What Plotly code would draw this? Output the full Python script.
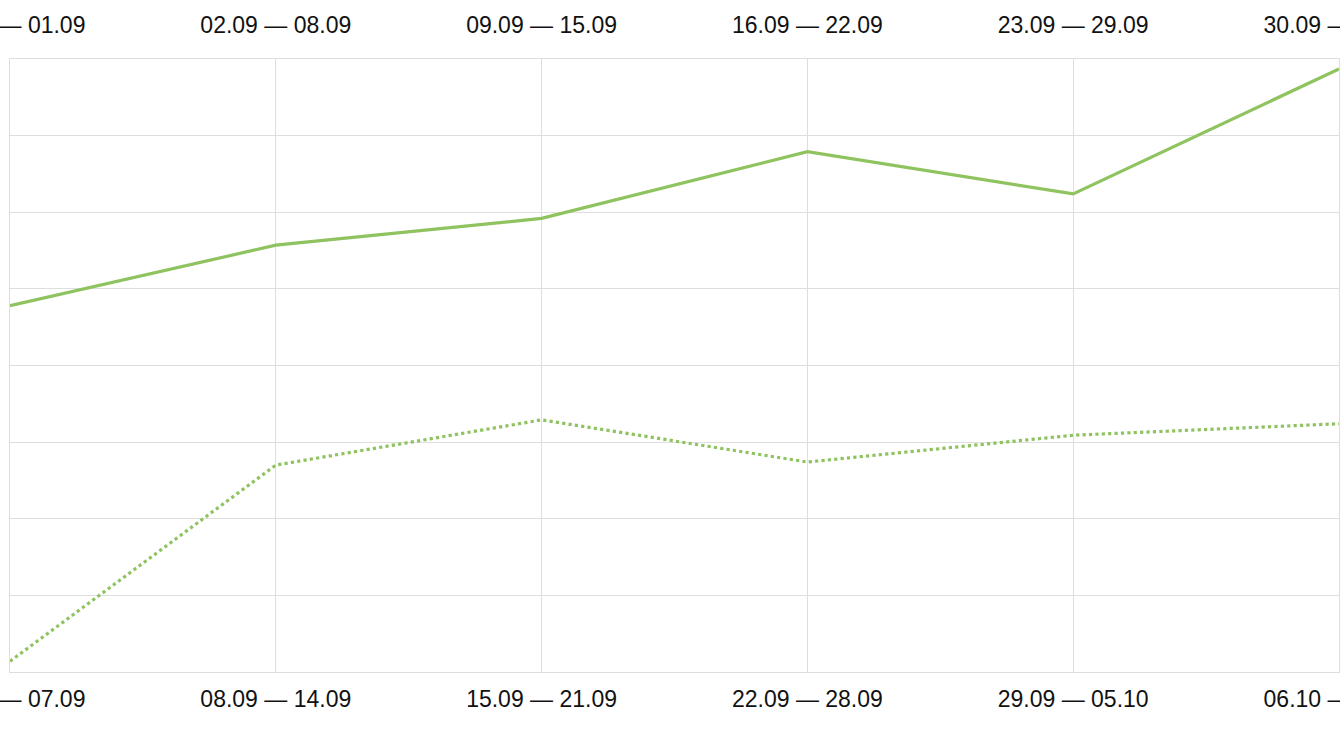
import plotly.graph_objects as go

bottom_labels = ["01.09 — 07.09", "08.09 — 14.09", "15.09 — 21.09",
                 "22.09 — 28.09", "29.09 — 05.10", "06.10 — 12.10"]
top_labels = ["26.08 — 01.09", "02.09 — 08.09", "09.09 — 15.09",
              "16.09 — 22.09", "23.09 — 29.09", "30.09 — 06.10"]
current_values = [478, 557, 592, 679, 624, 787]
previous_values = [14, 270, 329, 274, 309, 324]

idx = list(range(len(bottom_labels)))
green = "#8fc35f"
grid = "#dedede"
font = dict(family="Liberation Sans, Arial, Helvetica, sans-serif", size=23, color="#111111")

fig = go.Figure()
fig.add_trace(go.Scatter(x=idx, y=current_values, mode="lines",
                         line=dict(color=green, width=3.2), xaxis="x", yaxis="y",
                         hoverinfo="skip", showlegend=False))
fig.add_trace(go.Scatter(x=idx, y=previous_values, mode="lines",
                         line=dict(color=green, width=3.2, dash="dot"), xaxis="x2", yaxis="y",
                         hoverinfo="skip", showlegend=False))

fig.update_layout(
    width=1340, height=738,
    margin=dict(l=10, r=1, t=59, b=66, autoexpand=False),
    plot_bgcolor="white", paper_bgcolor="white",
    xaxis=dict(range=[0, 5], tickvals=idx, ticktext=bottom_labels, showgrid=True,
               gridcolor=grid, gridwidth=1.3, zeroline=False, showline=True, linecolor=grid,
               linewidth=1.3, mirror=True, ticks="", tickfont=font, ticklabeloverflow="allow",
               ticklabelstandoff=6, automargin=False, fixedrange=True),
    xaxis2=dict(range=[0, 5], tickvals=idx, ticktext=top_labels, overlaying="x", side="top",
                showgrid=False, zeroline=False, showline=False, ticks="", tickfont=font,
                ticklabeloverflow="allow", ticklabelstandoff=20, automargin=False,
                fixedrange=True),
    yaxis=dict(range=[0, 800], dtick=100, showgrid=True, gridcolor=grid, gridwidth=1.3,
               zeroline=False, showticklabels=False, showline=True, linecolor=grid,
               linewidth=1.3, mirror=True, ticks="", automargin=False, fixedrange=True),
)

fig.write_html("out.html", config={"displayModeBar": False},
               post_script="document.body.style.margin='0';document.body.style.overflow='hidden';")
